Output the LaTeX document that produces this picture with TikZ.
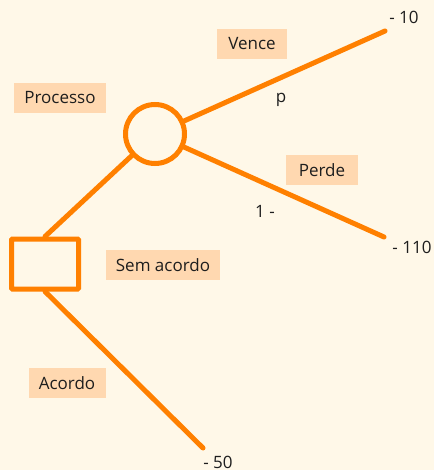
\documentclass[tikz,border=0pt]{standalone}
\usepackage{fontspec}
\setmainfont{Open Sans}
\definecolor{bg}{RGB}{255,248,232}
\definecolor{org}{RGB}{255,128,0}
\definecolor{peach}{RGB}{255,216,176}
\definecolor{txt}{RGB}{30,30,30}
\begin{document}
\begin{tikzpicture}[x=1pt,y=-1pt,
  lbl/.style={fill=peach,text=txt,font=\fontsize{17}{20}\selectfont,minimum height=30pt,inner xsep=9pt,inner ysep=0pt,anchor=center},
  val/.style={text=txt,font=\fontsize{17}{20}\selectfont,inner sep=0pt},
  br/.style={draw=org,line width=5pt,line cap=round}]
\fill[bg] (0,0) rectangle (434,470);
\useasboundingbox (0,0) rectangle (434,470);
\node[draw=org,line width=5pt,circle,minimum size=59pt,inner sep=0pt] (chance) at (155,134) {};
\node[draw=org,line width=5pt,rounded corners=1pt,minimum width=67pt,minimum height=50pt,inner sep=0pt] (dec) at (45,264) {};
\coordinate (w) at (385,31);
\coordinate (l) at (384,237);
\coordinate (a) at (203,448);
\draw[br] (chance) -- (w);
\draw[br] (chance) -- (l);
\draw[br] (dec.north) -- (chance);
\draw[br] (dec.south) -- (a);
\node[lbl,minimum width=92pt] (processo) at (60,98) {Processo};
\node[lbl,minimum width=70pt] (vence) at (252,44) {Vence};
\node[lbl,minimum width=72pt] (perde) at (322,170) {Perde};
\node[lbl,minimum width=114pt] (sem) at (163,265) {Sem acordo};
\node[lbl,minimum width=77pt] (acordo) at (67,383) {Acordo};
\node[val] (p) at (281,100) {p};
\node[val] (q) at (265,211) {1 -};
\node[val] (v1) at (404,17) {- 10};
\node[val] (v2) at (412,247) {- 110};
\node[val] (v3) at (218,462) {- 50};
\end{tikzpicture}
\end{document}
